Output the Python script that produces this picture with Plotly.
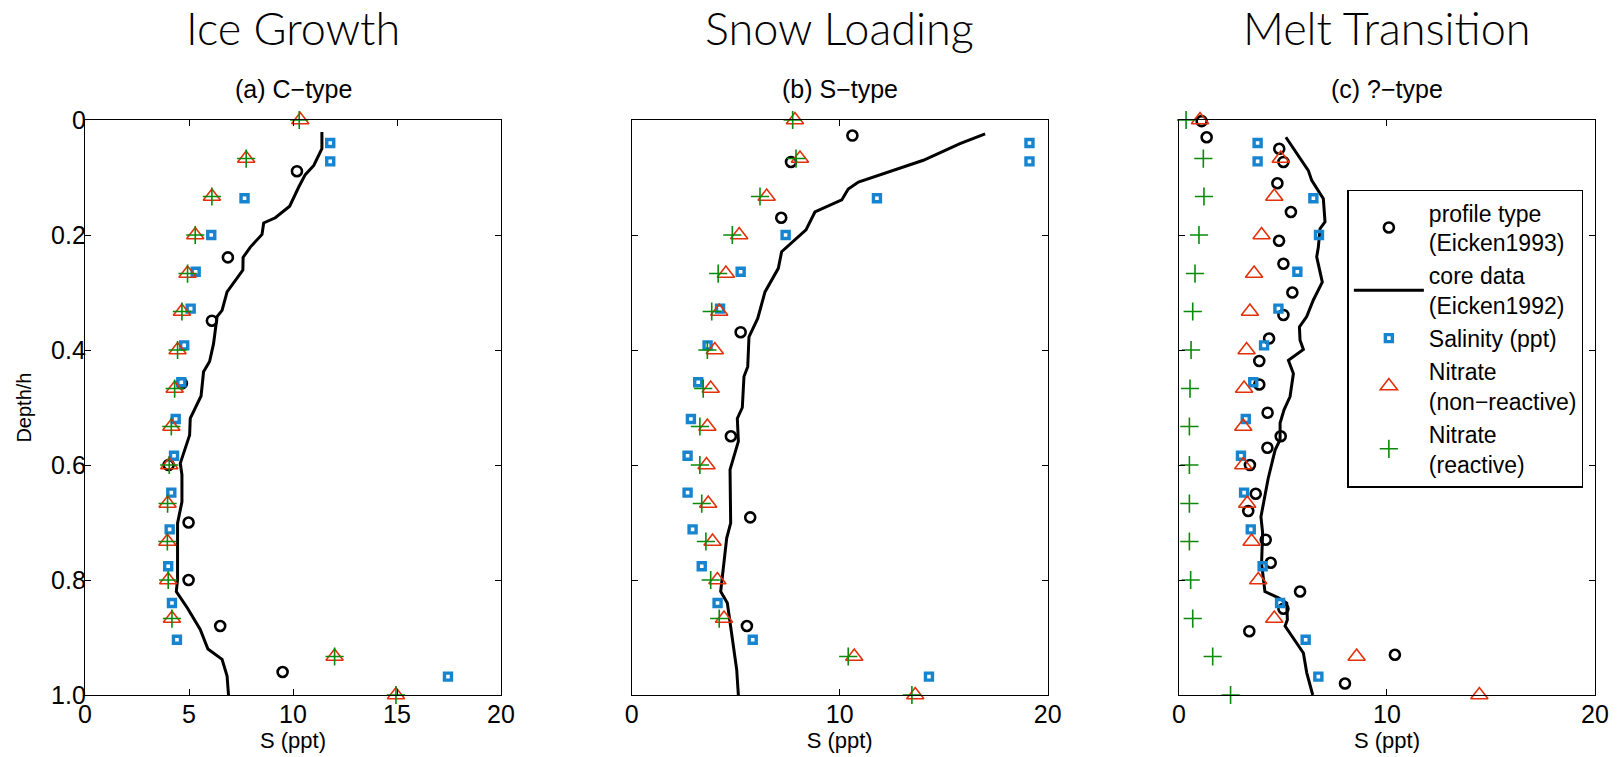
import plotly.graph_objects as go

# ---------------- data ----------------
nit_depth = [0.0, 0.067, 0.133, 0.2, 0.267, 0.333, 0.4, 0.467, 0.533, 0.6, 0.667, 0.733, 0.8, 0.867, 0.933, 1.0]
sal_depth = [0.04, 0.072, 0.136, 0.2, 0.264, 0.328, 0.392, 0.456, 0.52, 0.584, 0.648, 0.712, 0.776, 0.84, 0.904, 0.968]

# (a) C-type
nit_nr1 = [10.35, 7.75, 6.1, 5.3, 4.93, 4.66, 4.45, 4.31, 4.15, 4.05, 3.97, 3.96, 4.0, 4.18, 12.0, 14.95]
nit_r1 = [10.3, 7.75, 6.1, 5.3, 4.93, 4.66, 4.45, 4.31, 4.15, 4.05, 3.97, 3.96, 4.0, 4.18, 12.0, 14.95]
sal1 = [11.79, 11.79, 7.67, 6.07, 5.32, 5.08, 4.77, 4.63, 4.36, 4.28, 4.15, 4.07, 4.0, 4.18, 4.42, 17.45]
prof1_d = [0.089, 0.239, 0.349, 0.458, 0.6, 0.70, 0.80, 0.88, 0.96]
prof1_s = [10.19, 6.87, 6.1, 4.66, 4.02, 4.98, 4.98, 6.5, 9.5]
core1_d = [0.021, 0.05, 0.079, 0.095, 0.117, 0.150, 0.170, 0.179, 0.199, 0.221, 0.239, 0.261, 0.299, 0.331,
           0.342, 0.389, 0.420, 0.438, 0.48, 0.519, 0.548, 0.597, 0.617, 0.664, 0.701, 0.799, 0.82, 0.849,
           0.886, 0.920, 0.938, 0.967, 1.0]
core1_s = [11.39, 11.39, 11.0, 10.59, 10.27, 9.84, 9.15, 8.59, 8.51, 7.95, 7.6, 7.59, 6.83, 6.59,
           6.35, 6.18, 5.99, 5.7, 5.58, 5.06, 5.03, 4.58, 4.66, 4.66, 4.45, 4.45, 4.39, 4.93,
           5.54, 5.91, 6.59, 6.83, 6.9]

# (b) S-type
nit_nr2 = [7.85, 8.09, 6.49, 5.17, 4.53, 4.21, 4.0, 3.8, 3.64, 3.6, 3.68, 3.89, 4.12, 4.44, 10.7, 13.63]
nit_r2 = [7.74, 7.9, 6.17, 4.84, 4.16, 3.85, 3.64, 3.44, 3.28, 3.28, 3.37, 3.57, 3.8, 4.21, 10.41, 13.47]
sal2 = [19.12, 19.12, 11.79, 7.4, 5.24, 4.25, 3.65, 3.2, 2.85, 2.69, 2.69, 2.93, 3.37, 4.13, 5.82, 14.29]
prof2_d = [0.027, 0.073, 0.170, 0.369, 0.55, 0.691, 0.88]
prof2_s = [10.61, 7.66, 7.19, 5.24, 4.77, 5.7, 5.54]
core2_d = [0.024, 0.041, 0.070, 0.091, 0.108, 0.12, 0.139, 0.160, 0.191, 0.229, 0.258, 0.299, 0.345,
           0.377, 0.429, 0.446, 0.5, 0.519, 0.559, 0.608, 0.701, 0.727, 0.82, 0.84, 0.918, 0.956, 1.0]
core2_s = [16.99, 15.78, 14.02, 12.26, 10.9, 10.41, 10.1, 8.81, 8.38, 7.21, 7.05, 6.41, 6.06,
           5.64, 5.58, 5.4, 5.32, 5.08, 5.13, 4.73, 4.76, 4.57, 4.28, 4.6, 4.89, 5.05, 5.13]

# (c) ?-type
nit_nr3 = [1.01, 4.89, 4.58, 3.97, 3.61, 3.41, 3.25, 3.13, 3.09, 3.09, 3.28, 3.49, 3.81, 4.58, 8.54, 14.44]
nit_r3 = [0.34, 1.17, 1.2, 0.96, 0.77, 0.66, 0.58, 0.53, 0.5, 0.5, 0.5, 0.5, 0.56, 0.66, 1.62, 2.48]
sal3 = [3.78, 3.78, 6.46, 6.73, 5.69, 4.78, 4.09, 3.57, 3.21, 2.98, 3.13, 3.45, 4.02, 4.86, 6.09, 6.7]
prof3_d = [0.002, 0.03, 0.05, 0.073, 0.11, 0.16, 0.21, 0.25, 0.30, 0.339, 0.38, 0.419, 0.46, 0.509,
           0.55, 0.57, 0.6, 0.65, 0.68, 0.73, 0.77, 0.82, 0.85, 0.889, 0.93, 0.98]
prof3_s = [1.09, 1.33, 4.82, 5.02, 4.73, 5.38, 4.81, 5.02, 5.45, 5.02, 4.33, 3.86, 3.86, 4.26,
           4.89, 4.25, 3.41, 3.69, 3.33, 4.17, 4.41, 5.82, 5.02, 3.38, 10.38, 7.98]
core3_d = [0.03, 0.059, 0.088, 0.105, 0.137, 0.177, 0.189, 0.221, 0.238, 0.282, 0.313, 0.342, 0.36,
           0.383, 0.399, 0.418, 0.441, 0.481, 0.504, 0.527, 0.556, 0.574, 0.623, 0.69, 0.718, 0.771,
           0.82, 0.831, 0.84, 0.869, 0.88, 0.927, 0.961, 1.0]
core3_s = [5.14, 5.66, 6.22, 6.38, 6.94, 7.02, 6.78, 6.7, 6.62, 6.89, 6.46, 6.14, 5.79,
           5.82, 5.98, 5.26, 5.5, 5.34, 5.05, 4.86, 4.86, 4.62, 4.29, 3.94, 4.02, 3.97,
           4.13, 4.78, 5.18, 5.21, 5.1, 5.98, 6.14, 6.43]

big_titles = ["Ice Growth", "Snow Loading", "Melt Transition"]
sub_titles = ["(a) C\u2212type", "(b) S\u2212type", "(c) ?\u2212type"]
legend_names = ["profile type<br>(Eicken1993)", "core data<br>(Eicken1992)", "Salinity (ppt)",
                "Nitrate<br>(non\u2212reactive)", "Nitrate<br>(reactive)"]
y_tickvals = [0, 0.2, 0.4, 0.6, 0.8, 1.0]
y_ticktext = ["0", "0.2", "0.4", "0.6", "0.8", "1.0"]
x_ticks_a = [0, 5, 10, 15, 20]
x_ticks_bc = [0, 10, 20]

# ---------------- styling ----------------
BLUE = "rgb(22,132,206)"
RED = "rgb(226,48,10)"
GREEN = "rgb(10,138,10)"
SANS = "Liberation Sans, Arial, sans-serif"
TICKFONT = dict(family=SANS, size=25, color="black")

panels = [
    (prof1_d, prof1_s, core1_d, core1_s, sal1, nit_nr1, nit_r1),
    (prof2_d, prof2_s, core2_d, core2_s, sal2, nit_nr2, nit_r2),
    (prof3_d, prof3_s, core3_d, core3_s, sal3, nit_nr3, nit_r3),
]
domains = [[0.0, 0.2755], [0.362, 0.6376], [0.7245, 1.0]]

fig = go.Figure()
for i, (pd_, ps_, cd_, cs_, sal, nnr, nr) in enumerate(panels):
    xa = "x" if i == 0 else f"x{i+1}"
    ya = "y" if i == 0 else f"y{i+1}"
    show = (i == 2)
    fig.add_trace(go.Scatter(x=ps_, y=pd_, mode="markers", name=legend_names[0], xaxis=xa, yaxis=ya,
                             showlegend=show, cliponaxis=False,
                             marker=dict(symbol="circle-open", size=10, color="black", line=dict(width=2.6, color="black"))))
    fig.add_trace(go.Scatter(x=cs_, y=cd_, mode="lines", name=legend_names[1], xaxis=xa, yaxis=ya,
                             showlegend=show, line=dict(color="black", width=3)))
    fig.add_trace(go.Scatter(x=sal, y=sal_depth, mode="markers", name=legend_names[2], xaxis=xa, yaxis=ya,
                             showlegend=show, cliponaxis=False,
                             marker=dict(symbol="square-open", size=7, color=BLUE, line=dict(width=3.4, color=BLUE))))
    fig.add_trace(go.Scatter(x=nnr, y=nit_depth, mode="markers", name=legend_names[3], xaxis=xa, yaxis=ya,
                             showlegend=show, cliponaxis=False,
                             marker=dict(symbol="triangle-up-open", size=15, color=RED, line=dict(width=1.6, color=RED))))
    fig.add_trace(go.Scatter(x=nr, y=nit_depth, mode="markers", name=legend_names[4], xaxis=xa, yaxis=ya,
                             showlegend=show, cliponaxis=False,
                             marker=dict(symbol="cross-thin-open", size=13, color=GREEN, line=dict(width=1.6, color=GREEN))))

# the page body has an 8px default margin; the figure is sized to fit inside the window
layout = dict(
    width=1610, height=749,
    margin=dict(l=77, r=23, t=112, b=62, autoexpand=False),
    paper_bgcolor="white", plot_bgcolor="white",
    showlegend=True,
    legend=dict(x=0.836, y=0.879, xanchor="left", yanchor="top", bgcolor="white",
                bordercolor="black", borderwidth=1.5, itemwidth=70, tracegroupgap=0,
                font=dict(family=SANS, size=23, color="black")),
)
axis_common = dict(showline=True, linecolor="black", linewidth=1.3, mirror="allticks", ticks="inside",
                   ticklen=6, tickwidth=1, tickcolor="black", showgrid=False, zeroline=False,
                   tickfont=TICKFONT, automargin=False)
for i in range(3):
    xk = "xaxis" if i == 0 else f"xaxis{i+1}"
    yk = "yaxis" if i == 0 else f"yaxis{i+1}"
    ya = "y" if i == 0 else f"y{i+1}"
    xa = "x" if i == 0 else f"x{i+1}"
    layout[xk] = dict(axis_common, domain=domains[i], range=[0, 20], anchor=ya,
                      tickvals=x_ticks_a if i == 0 else x_ticks_bc,
                      title=dict(text="S (ppt)", standoff=0, font=dict(family=SANS, size=22, color="black")),
                      ticklabelstandoff=-3)
    layout[yk] = dict(axis_common, domain=[0, 1], range=[1, 0], anchor=xa,
                      tickvals=y_tickvals, ticktext=y_ticktext, showticklabels=(i == 0),
                      ticklabelstandoff=-7)
fig.update_layout(**layout)

annotations = []
for i in range(3):
    xc = (domains[i][0] + domains[i][1]) / 2
    annotations.append(dict(text=big_titles[i], x=xc, y=1.1607, xref="paper", yref="paper",
                            xanchor="center", yanchor="middle", showarrow=False,
                            font=dict(family="Lato, Open Sans, sans-serif", size=45, color="black", weight=300)))
    annotations.append(dict(text=sub_titles[i], x=xc, y=1.0544, xref="paper", yref="paper",
                            xanchor="center", yanchor="middle", showarrow=False,
                            font=dict(family=SANS, size=25, color="black")))
# y-axis title
annotations.append(dict(text="Depth/h", x=-0.041, y=0.5, xref="paper", yref="paper", textangle=-90,
                        xanchor="center", yanchor="middle", showarrow=False,
                        font=dict(family=SANS, size=20, color="black")))
fig.update_layout(annotations=annotations)

fig.write_html("out.html")
